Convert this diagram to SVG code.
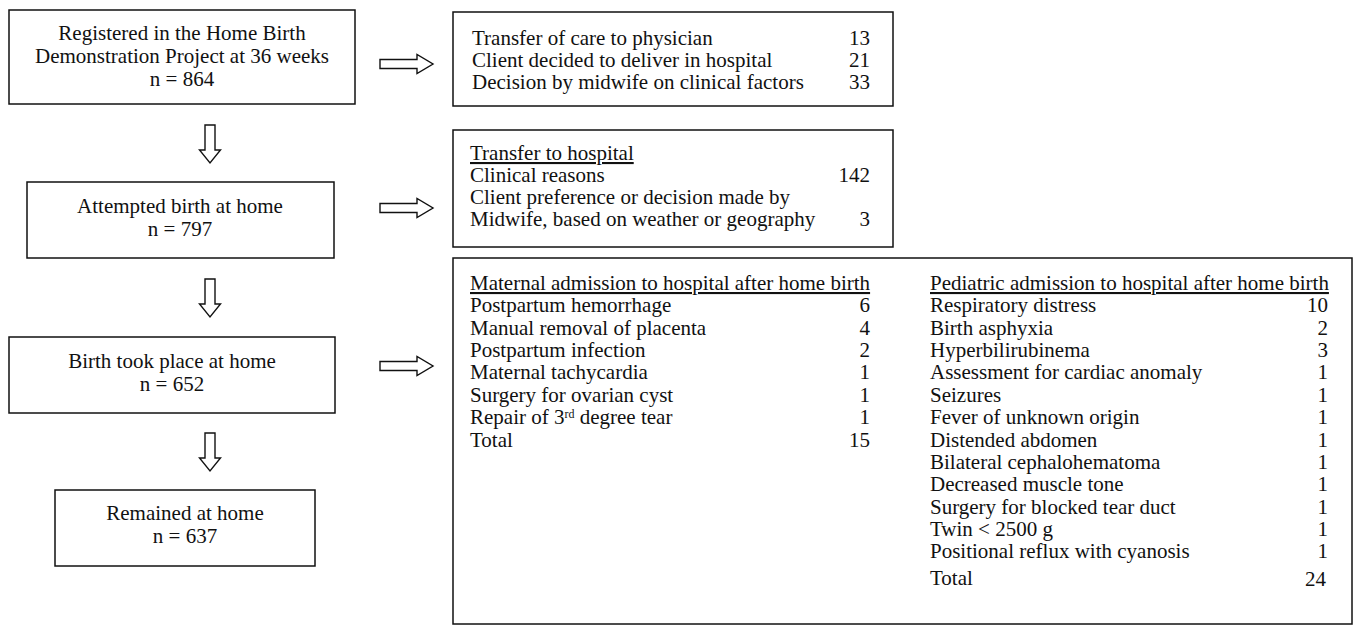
<svg xmlns="http://www.w3.org/2000/svg" width="1361" height="629" viewBox="0 0 1361 629">
<style>
text{font-family:"Liberation Serif","Times New Roman",serif;font-size:21px;fill:#111}
.c{text-anchor:middle}
.r{text-anchor:end}
.u{text-decoration:underline}
.box{fill:#fff;stroke:#111;stroke-width:1.5}
.arr{fill:#fff;stroke:#111;stroke-width:1.4;stroke-linejoin:miter}
</style>
<rect width="1361" height="629" fill="#fff"/>
<defs>
<path id="ha" d="M0,-4.5 H37 V-9.5 L53,0 L37,9.5 V4.5 H0 Z"/>
<path id="va" d="M-5,0 V25 H-10.5 L0,38 L10.5,25 H5 V0 Z"/>
</defs>
<g id="connectors">
<use href="#ha" class="arr" x="380" y="64"/>
<use href="#ha" class="arr" x="380" y="208"/>
<use href="#ha" class="arr" x="380" y="366"/>
<use href="#va" class="arr" x="210" y="125"/>
<use href="#va" class="arr" x="210" y="279"/>
<use href="#va" class="arr" x="210" y="433"/>
</g>
<g id="registered">
<rect class="box" x="9" y="10" width="346" height="94"/>
<text class="c" x="182" y="40">Registered in the Home Birth</text>
<text class="c" x="182" y="63">Demonstration Project at 36 weeks</text>
<text class="c" x="182" y="86">n = 864</text>
</g>
<g id="attempted">
<rect class="box" x="27" y="182" width="307" height="76"/>
<text class="c" x="180" y="213">Attempted birth at home</text>
<text class="c" x="180" y="236">n = 797</text>
</g>
<g id="birth-home">
<rect class="box" x="9" y="337" width="326" height="76"/>
<text class="c" x="172" y="368">Birth took place at home</text>
<text class="c" x="172" y="391">n = 652</text>
</g>
<g id="remained">
<rect class="box" x="55" y="490" width="260" height="76"/>
<text class="c" x="185" y="520">Remained at home</text>
<text class="c" x="185" y="543">n = 637</text>
</g>
<g id="exclusions">
<rect class="box" x="453" y="12" width="440" height="94"/>
<text x="472" y="45">Transfer of care to physician</text><text class="r" x="870" y="45">13</text>
<text x="472" y="67">Client decided to deliver in hospital</text><text class="r" x="870" y="67">21</text>
<text x="472" y="89">Decision by midwife on clinical factors</text><text class="r" x="870" y="89">33</text>
</g>
<g id="transfer">
<rect class="box" x="453" y="130" width="440" height="117"/>
<text class="u" x="470" y="160">Transfer to hospital</text>
<text x="470" y="182">Clinical reasons</text><text class="r" x="870" y="182">142</text>
<text x="470" y="204">Client preference or decision made by</text>
<text x="470" y="226">Midwife, based on weather or geography</text><text class="r" x="870" y="226">3</text>
</g>
<g id="admissions">
<rect class="box" x="453" y="258" width="899" height="366"/>
<text class="u" x="470" y="290">Maternal admission to hospital after home birth</text>
<text x="470" y="312">Postpartum hemorrhage</text><text class="r" x="870" y="312">6</text>
<text x="470" y="335">Manual removal of placenta</text><text class="r" x="870" y="335">4</text>
<text x="470" y="357">Postpartum infection</text><text class="r" x="870" y="357">2</text>
<text x="470" y="379">Maternal tachycardia</text><text class="r" x="870" y="379">1</text>
<text x="470" y="402">Surgery for ovarian cyst</text><text class="r" x="870" y="402">1</text>
<text x="470" y="424">Repair of 3<tspan font-size="12" dy="-6">rd</tspan><tspan dy="6"> degree tear</tspan></text><text class="r" x="870" y="424">1</text>
<text x="470" y="447">Total</text><text class="r" x="870" y="447">15</text>
<text class="u" x="930" y="290">Pediatric admission to hospital after home birth</text>
<text x="930" y="312">Respiratory distress</text><text class="r" x="1328" y="312">10</text>
<text x="930" y="335">Birth asphyxia</text><text class="r" x="1328" y="335">2</text>
<text x="930" y="357">Hyperbilirubinema</text><text class="r" x="1328" y="357">3</text>
<text x="930" y="379">Assessment for cardiac anomaly</text><text class="r" x="1328" y="379">1</text>
<text x="930" y="402">Seizures</text><text class="r" x="1328" y="402">1</text>
<text x="930" y="424">Fever of unknown origin</text><text class="r" x="1328" y="424">1</text>
<text x="930" y="447">Distended abdomen</text><text class="r" x="1328" y="447">1</text>
<text x="930" y="469">Bilateral cephalohematoma</text><text class="r" x="1328" y="469">1</text>
<text x="930" y="491">Decreased muscle tone</text><text class="r" x="1328" y="491">1</text>
<text x="930" y="514">Surgery for blocked tear duct</text><text class="r" x="1328" y="514">1</text>
<text x="930" y="536">Twin &lt; 2500 g</text><text class="r" x="1328" y="536">1</text>
<text x="930" y="558">Positional reflux with cyanosis</text><text class="r" x="1328" y="558">1</text>
<text x="930" y="585">Total</text><text class="r" x="1326" y="586" font-size="26">24</text>
</g>
</svg>
